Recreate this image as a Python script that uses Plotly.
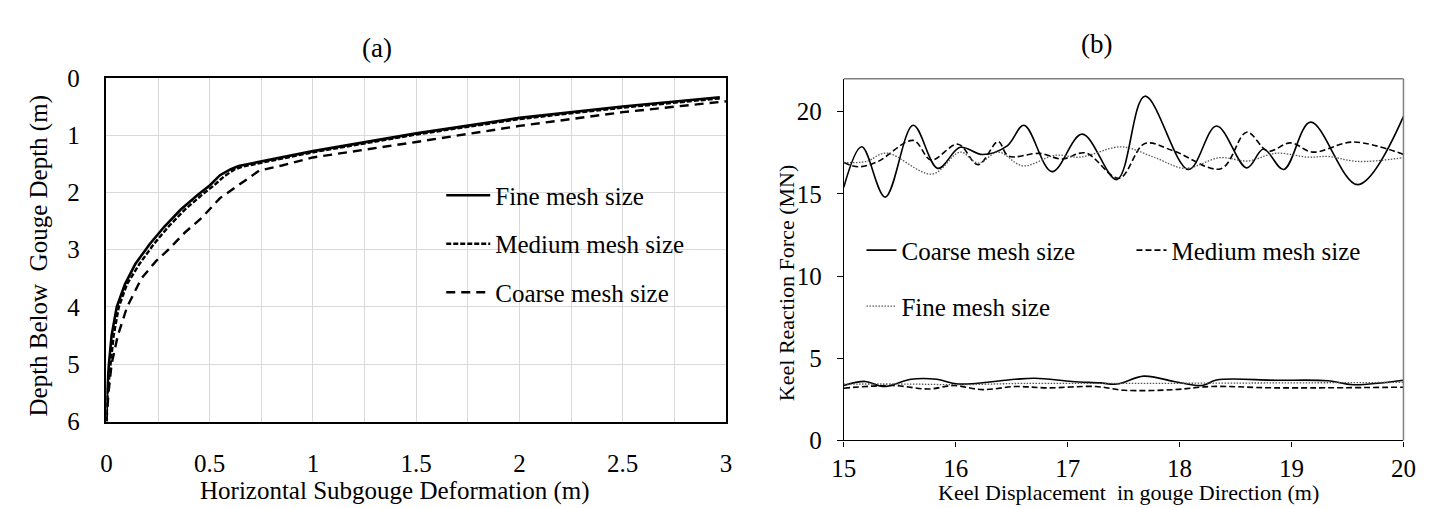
import plotly.graph_objects as go

FONT = "Liberation Serif"
W, H = 1433, 508

# ---------------- Panel (a): subgouge deformation profiles ----------------
fine_def = [0.0, 0.003, 0.012, 0.025, 0.05, 0.09, 0.14, 0.21, 0.28, 0.36, 0.44, 0.50, 0.55, 0.60, 0.64, 0.80, 1.0, 1.5, 2.0, 2.5, 2.97]
fine_depth = [6.0, 5.5, 5.0, 4.5, 4.0, 3.6, 3.25, 2.9, 2.6, 2.3, 2.05, 1.88, 1.70, 1.60, 1.54, 1.43, 1.28, 0.97, 0.70, 0.50, 0.34]

medium_def = [0.0, 0.006, 0.02, 0.035, 0.06, 0.10, 0.16, 0.23, 0.30, 0.38, 0.46, 0.52, 0.57, 0.62, 0.66, 0.80, 1.0, 1.5, 2.0, 2.5, 2.97]
medium_depth = [6.0, 5.5, 5.0, 4.5, 4.0, 3.6, 3.25, 2.9, 2.6, 2.3, 2.05, 1.88, 1.72, 1.60, 1.55, 1.45, 1.30, 0.99, 0.72, 0.52, 0.36]

coarse_def = [0.0, 0.01, 0.025, 0.055, 0.10, 0.17, 0.24, 0.30, 0.38, 0.46, 0.55, 0.62, 0.68, 0.74, 0.85, 1.0, 1.5, 2.0, 2.5, 3.0]
coarse_depth = [6.0, 5.5, 5.0, 4.5, 4.0, 3.5, 3.2, 3.0, 2.7, 2.45, 2.1, 1.92, 1.77, 1.62, 1.53, 1.39, 1.12, 0.84, 0.60, 0.41]

a_x_ticks = [0, 0.5, 1, 1.5, 2, 2.5, 3]
a_x_labels = ["0", "0.5", "1", "1.5", "2", "2.5", "3"]
a_y_ticks = [0, 1, 2, 3, 4, 5, 6]

# ---------------- Panel (b): keel reaction forces ----------------
coarse_up_x = [15.0, 15.16, 15.37, 15.62, 15.84, 16.04, 16.24, 16.46, 16.61, 16.86, 17.13, 17.44, 17.69, 18.08, 18.33, 18.6, 18.75, 18.93, 19.17, 19.59, 20.0]
coarse_up_f = [15.4, 17.86, 14.8, 19.17, 16.55, 17.83, 17.39, 17.92, 19.17, 16.35, 18.63, 15.87, 20.94, 16.48, 19.13, 16.58, 17.73, 16.48, 19.36, 15.56, 19.71]

medium_up_x = [15.0, 15.13, 15.3, 15.62, 15.78, 16.02, 16.2, 16.38, 16.47, 16.75, 16.95, 17.16, 17.46, 17.69, 17.95, 18.37, 18.6, 18.79, 18.99, 19.19, 19.55, 20.0]
medium_up_f = [16.9, 16.65, 16.95, 18.25, 17.06, 18.02, 16.77, 18.18, 17.3, 17.46, 17.12, 17.49, 15.95, 18.06, 17.6, 16.53, 18.75, 17.6, 18.1, 17.54, 18.15, 17.4]

fine_up_x = [15.0, 15.2, 15.38, 15.79, 16.04, 16.2, 16.38, 16.6, 16.89, 17.11, 17.48, 17.77, 18.05, 18.36, 18.61, 18.86, 19.15, 19.33, 19.59, 20.0]
fine_up_f = [16.9, 16.97, 17.48, 16.2, 17.54, 16.87, 17.54, 16.7, 17.35, 17.23, 17.86, 17.23, 16.55, 17.2, 17.0, 17.47, 17.23, 17.27, 16.97, 17.2]

coarse_low_x = [15.0, 15.19, 15.36, 15.6, 15.83, 16.02, 16.53, 16.71, 17.04, 17.29, 17.44, 17.68, 17.95, 18.2, 18.33, 18.86, 19.33, 19.55, 20.0]
coarse_low_f = [3.34, 3.59, 3.28, 3.72, 3.72, 3.43, 3.72, 3.78, 3.59, 3.5, 3.43, 3.91, 3.59, 3.34, 3.68, 3.66, 3.63, 3.39, 3.66]

medium_low_x = [15.0, 15.44, 15.76, 15.98, 16.24, 16.53, 16.82, 17.25, 17.51, 17.95, 18.28, 18.86, 20.0]
medium_low_f = [3.18, 3.34, 3.13, 3.34, 3.09, 3.28, 3.2, 3.28, 3.05, 3.09, 3.28, 3.2, 3.24]

fine_low_x = [15.0, 15.6, 16.02, 16.6, 17.5, 18.5, 20.0]
fine_low_f = [3.43, 3.43, 3.39, 3.47, 3.47, 3.49, 3.53]

b_x_ticks = [15, 16, 17, 18, 19, 20]
b_y_ticks = [0, 5, 10, 15, 20]


def px(v):
    return v / W


def py(v):
    return 1 - v / H


fig = go.Figure()

# panel (a) traces
fig.add_trace(go.Scatter(x=fine_def, y=fine_depth, mode="lines", name="Fine mesh size",
                         line=dict(color="black", width=2.6), xaxis="x", yaxis="y",
                         legend="legend", legendgroup="a1"))
fig.add_trace(go.Scatter(x=medium_def, y=medium_depth, mode="lines", name="Medium mesh size",
                         line=dict(color="black", width=2.4, dash="5px,2px"), xaxis="x", yaxis="y",
                         legend="legend", legendgroup="a2"))
fig.add_trace(go.Scatter(x=coarse_def, y=coarse_depth, mode="lines", name="Coarse mesh size",
                         line=dict(color="black", width=2.4, dash="9px,6px"), xaxis="x", yaxis="y",
                         legend="legend", legendgroup="a3"))

# panel (b) traces
solid_b = dict(color="black", width=1.6)
dash_b = dict(color="black", width=1.6, dash="6px,3px")
dot_b = dict(color="#555555", width=1.3, dash="1.5px,1.5px")

fig.add_trace(go.Scatter(x=coarse_up_x, y=coarse_up_f, mode="lines", name="Coarse mesh size",
                         line=dict(shape="spline", smoothing=1.0, **solid_b), xaxis="x2", yaxis="y2",
                         legend="legend2"))
fig.add_trace(go.Scatter(x=medium_up_x, y=medium_up_f, mode="lines", name="Medium mesh size",
                         line=dict(shape="spline", smoothing=1.0, **dash_b), xaxis="x2", yaxis="y2",
                         legend="legend2"))
fig.add_trace(go.Scatter(x=fine_up_x, y=fine_up_f, mode="lines", name="Fine mesh size",
                         line=dict(shape="spline", smoothing=1.0, **dot_b), xaxis="x2", yaxis="y2",
                         legend="legend3"))
fig.add_trace(go.Scatter(x=coarse_low_x, y=coarse_low_f, mode="lines", showlegend=False,
                         line=dict(shape="spline", smoothing=1.0, **solid_b), xaxis="x2", yaxis="y2"))
fig.add_trace(go.Scatter(x=medium_low_x, y=medium_low_f, mode="lines", showlegend=False,
                         line=dict(shape="spline", smoothing=1.0, **dash_b), xaxis="x2", yaxis="y2"))
fig.add_trace(go.Scatter(x=fine_low_x, y=fine_low_f, mode="lines", showlegend=False,
                         line=dict(shape="spline", smoothing=1.0, **dot_b), xaxis="x2", yaxis="y2"))

tickfont = dict(family=FONT, size=25, color="black")
legfont = dict(family=FONT, size=25, color="black")

fig.update_layout(
    width=W, height=H, autosize=False,
    margin=dict(l=0, r=0, t=0, b=0),
    paper_bgcolor="white", plot_bgcolor="white",
    font=dict(family=FONT, color="black"),
    xaxis=dict(domain=[px(87), px(718)], range=[0, 3], anchor="y",
               tickmode="array", tickvals=a_x_ticks, ticktext=a_x_labels,
               showgrid=True, gridcolor="#d9d9d9", gridwidth=1,
               minor=dict(dtick=0.25, tick0=0, showgrid=True, gridcolor="#d9d9d9", gridwidth=1),
               showline=True, linecolor="black", linewidth=1.5, mirror=True, zeroline=False,
               ticks="outside", ticklen=19, tickcolor="rgba(0,0,0,0)", tickfont=tickfont),
    yaxis=dict(domain=[py(423), py(60)], range=[6, 0], anchor="x",
               tickmode="array", tickvals=a_y_ticks,
               showgrid=True, gridcolor="#d9d9d9", gridwidth=1,
               showline=True, linecolor="black", linewidth=1.5, mirror=True, zeroline=False,
               ticks="outside", ticklen=20, tickcolor="rgba(0,0,0,0)", tickfont=tickfont),
    xaxis2=dict(domain=[px(838), px(1408)], range=[15, 20], anchor="y2",
                tickmode="array", tickvals=b_x_ticks,
                showgrid=False, zeroline=False,
                showline=True, linecolor="black", linewidth=1.3,
                ticks="outside", ticklen=5, tickwidth=1.2, tickcolor="black", tickfont=tickfont),
    yaxis2=dict(domain=[py(443), py(61)], range=[0, 22], anchor="x2",
                tickmode="array", tickvals=b_y_ticks,
                showgrid=False, zeroline=False,
                showline=True, linecolor="black", linewidth=1.3,
                ticks="outside", ticklen=6, tickwidth=1.2, tickcolor="black", tickfont=tickfont,
                ticklabelstandoff=10),
    legend=dict(x=px(428), y=py(160), xanchor="left", yanchor="top", itemwidth=44,
                bgcolor="rgba(0,0,0,0)", font=legfont, tracegroupgap=13,
                itemclick=False, itemdoubleclick=False),
    legend2=dict(x=px(856), y=py(218), xanchor="left", yanchor="top", orientation="h",
                 entrywidthmode="pixels", entrywidth=225,
                 bgcolor="rgba(0,0,0,0)", font=legfont),
    legend3=dict(x=px(856), y=py(277), xanchor="left", yanchor="top", orientation="h",
                 bgcolor="rgba(0,0,0,0)", font=legfont),
    shapes=[
        # white legend backdrop of panel (a), hiding grid lines
        dict(type="rect", xref="paper", yref="paper", x0=px(416), x1=px(707), y0=py(313), y1=py(170),
             fillcolor="white", line=dict(width=0), layer="between"),
        # grey top / right frame of panel (b)
        dict(type="line", xref="x2 domain", yref="y2 domain", x0=0, x1=1, y0=1, y1=1,
             line=dict(color="#808080", width=1.5)),
        dict(type="line", xref="x2 domain", yref="y2 domain", x0=1, x1=1, y0=0, y1=1,
             line=dict(color="#808080", width=1.5)),
    ],
    annotations=[
        dict(text="(a)", x=px(363), y=py(28), xref="paper", yref="paper", showarrow=False,
             xanchor="center", yanchor="middle", font=dict(family=FONT, size=27, color="black")),
        dict(text="(b)", x=px(1095), y=py(24), xref="paper", yref="paper", showarrow=False,
             xanchor="center", yanchor="middle", font=dict(family=FONT, size=27, color="black")),
        dict(text="Horizontal Subgouge Deformation (m)", x=px(381), y=py(496), xref="paper", yref="paper",
             showarrow=False, xanchor="center", yanchor="middle", font=dict(family=FONT, size=25, color="black")),
        dict(text="Depth Below\u00a0 Gouge Depth (m)", x=px(18), y=py(248), xref="paper", yref="paper",
             showarrow=False, textangle=-90, xanchor="center", yanchor="middle",
             font=dict(family=FONT, size=25, color="black")),
        dict(text="Keel Displacement\u00a0 in gouge Direction (m)", x=px(1128), y=py(498), xref="paper",
             yref="paper", showarrow=False, xanchor="center", yanchor="middle",
             font=dict(family=FONT, size=22, color="black")),
        dict(text="Keel Reaction Force (MN)", x=px(779), y=py(277), xref="paper", yref="paper",
             showarrow=False, textangle=-90, xanchor="center", yanchor="middle",
             font=dict(family=FONT, size=22, color="black")),
    ],
)

fig.write_html("out.html")
